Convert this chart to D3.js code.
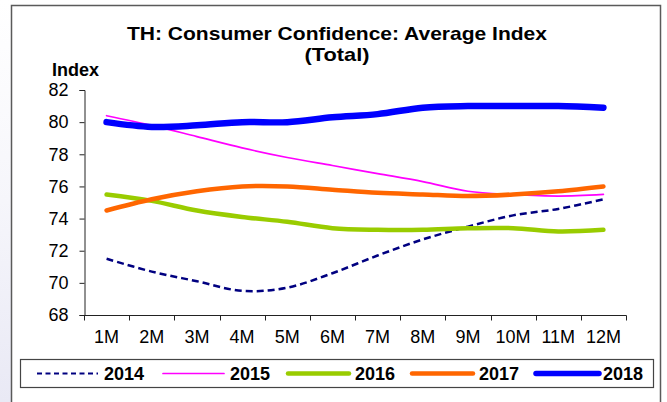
<!DOCTYPE html>
<html><head><meta charset="utf-8">
<script src="https://cdn.jsdelivr.net/npm/d3@7"></script>
<style>
html,body{margin:0;padding:0;background:#fff;}
svg{display:block;font-family:"Liberation Sans",Arial,sans-serif;}
</style></head>
<body>
<svg id="chart" width="667" height="402"></svg>
<script>
const categories = ["1M","2M","3M","4M","5M","6M","7M","8M","9M","10M","11M","12M"];
const yTicks = [68,70,72,74,76,78,80,82];
const seriesNames = ["2014","2015","2016","2017","2018"];
const v2014 = [71.5, 70.7, 70.1, 69.5, 69.7, 70.6, 71.7, 72.7, 73.5, 74.2, 74.6, 75.2];
const v2015 = [80.4, 79.8, 79.1, 78.4, 77.8, 77.3, 76.8, 76.3, 75.7, 75.5, 75.4, 75.5];
const v2016 = [75.5, 75.1, 74.5, 74.1, 73.8, 73.4, 73.3, 73.3, 73.4, 73.4, 73.2, 73.3];
const v2017 = [74.5, 75.2, 75.7, 76.0, 76.0, 75.8, 75.6, 75.5, 75.4, 75.5, 75.7, 76.0];
const v2018 = [80.0, 79.7, 79.8, 80.0, 80.0, 80.3, 80.5, 80.9, 81.0, 81.0, 81.0, 80.9];
const titleLines = ["TH: Consumer Confidence: Average Index", "(Total)"];
const yLabel = "Index";

const styles = [
  {color:"#000080", width:2.5, dash:"7,4", legDash:"5,3.5"},
  {color:"#FF00FF", width:1.7, dash:null},
  {color:"#99CC00", width:4.5, dash:null},
  {color:"#FF6600", width:4.5, dash:null},
  {color:"#0000FF", width:6.5, dash:null}
];
const allValues = [v2014, v2015, v2016, v2017, v2018];

const svg = d3.select("#chart");
const defs = svg.append("defs");
const grad = defs.append("linearGradient").attr("id","lg").attr("x1",0).attr("y1",0).attr("x2",0).attr("y2",1);
grad.append("stop").attr("offset","0").attr("stop-color","#ffffff");
grad.append("stop").attr("offset","0.5").attr("stop-color","#f6f6fb");
grad.append("stop").attr("offset","1").attr("stop-color","#e9e9f5");
svg.append("rect").attr("x",0).attr("y",0).attr("width",11).attr("height",402).attr("fill","url(#lg)");

// outer frame
svg.append("rect").attr("x",11.5).attr("y",5.5).attr("width",649).attr("height",420)
  .attr("fill","#fff").attr("stroke","#5a5a5a").attr("stroke-width",1.5);

const x = d3.scaleBand().domain(categories).range([84, 626]).padding(0);
const y = d3.scaleLinear().domain([68, 82]).range([315, 90]);

// title
const titleWidths = [420, 65];
svg.append("g").selectAll("text").data(titleLines).join("text")
  .attr("x", 337).attr("y", (d,i) => 40 + i*21)
  .attr("text-anchor","middle").attr("font-weight","bold").attr("font-size","19px").attr("fill","#000")
  .attr("textLength", (d,i) => titleWidths[i]).attr("lengthAdjust","spacingAndGlyphs")
  .text(d => d);

svg.append("text").attr("x",52).attr("y",76).attr("font-weight","bold").attr("font-size","18px").text(yLabel);

// axes
const yAxis = d3.axisLeft(y).tickValues(yTicks).tickSize(5).tickPadding(11).tickFormat(d3.format("d"));
const gy = svg.append("g").attr("transform","translate(84.5,0)").call(yAxis);
gy.select(".domain").attr("stroke","#222");
gy.selectAll(".tick line").attr("stroke","#222");
gy.selectAll(".tick text").attr("font-size","18px").attr("fill","#000").attr("font-family","Liberation Sans, Arial, sans-serif");

const gx = svg.append("g").attr("transform","translate(0,315.5)");
gx.append("line").attr("x1",84).attr("x2",626.5).attr("y1",0).attr("y2",0).attr("stroke","#222");
const bounds = categories.map(c => x(c)).concat([x(categories[categories.length-1]) + x.bandwidth()]);
gx.selectAll("line.tk").data(bounds).join("line").attr("class","tk")
  .attr("x1", d => Math.round(d)+0.5).attr("x2", d => Math.round(d)+0.5).attr("y1",0).attr("y2",5).attr("stroke","#222");
gx.selectAll("text").data(categories).join("text")
  .attr("x", d => x(d) + x.bandwidth()/2).attr("y", 27.5)
  .attr("text-anchor","middle").attr("font-size","18px").attr("fill","#000").text(d => d);

// lines
const line = d3.line().x((d,i) => x(categories[i]) + x.bandwidth()/2).y(d => y(d)).curve(d3.curveCardinal.tension(0));
svg.append("g").selectAll("path").data(allValues).join("path")
  .attr("d", d => line(d)).attr("fill","none")
  .attr("stroke", (d,i) => styles[i].color)
  .attr("stroke-width", (d,i) => styles[i].width)
  .attr("stroke-dasharray", (d,i) => styles[i].dash)
  .attr("stroke-linecap", (d,i) => styles[i].dash ? "butt" : "round")
  .attr("stroke-linejoin","round");

// legend
svg.append("rect").attr("x",20.5).attr("y",359.5).attr("width",633).attr("height",28)
  .attr("fill","#fff").attr("stroke","#444").attr("stroke-width",1.2);
const legX = [37, 163, 288, 412, 536];
const lg = svg.append("g").selectAll("g").data(seriesNames).join("g")
  .attr("transform",(d,i) => `translate(${legX[i]},373.5)`);
lg.append("line").attr("x1",0).attr("x2",(d,i)=> i===4 ? 63 : 61).attr("y1",0).attr("y2",0)
  .attr("stroke",(d,i)=>styles[i].color)
  .attr("stroke-width",(d,i)=> i===0 ? 2 : Math.min(styles[i].width, 5.5))
  .attr("stroke-dasharray",(d,i)=>styles[i].legDash || null)
  .attr("stroke-linecap",(d,i)=> i===0 ? "butt" : "round");
lg.append("text").attr("x",67).attr("y",6.5)
  .attr("font-weight","bold").attr("font-size","18px").attr("fill","#000").text(d => d);
</script>
</body></html>
